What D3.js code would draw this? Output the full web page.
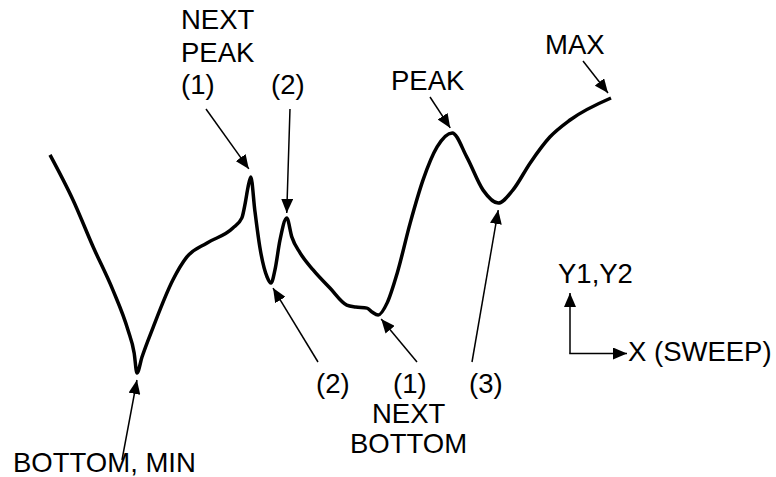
<!DOCTYPE html>
<html>
<head>
<meta charset="utf-8">
<script src="https://cdn.jsdelivr.net/npm/d3@7"></script>
<style>
  body { margin: 0; background: #fff; }
  text { font-family: "Liberation Sans", Arial, sans-serif; font-size: 27.5px; fill: #000; }
</style>
</head>
<body>
<div class="chart"></div>
<script>
// Configuration
var width = 776;
var height = 477;

// curve samples (sweep 0..100, level 0..100)
var sweep = [0, 4.1, 7.7, 11.2, 13.9, 15.0, 15.5, 16.4, 18.4, 21.9, 24.4, 28.0, 32.6, 34.2, 34.8, 35.3,
  35.8, 36.5, 37.4, 38.7, 39.4, 40.1, 41.0, 42.2, 43.1, 44.6, 46.9, 49.9, 52.9, 54.5, 56.5, 57.4,
  58.5, 60.1, 61.9, 64.2, 66.5, 69.0, 71.7, 74.3, 77.2, 79.9, 82.5, 85.6, 89.1, 92.7, 100];
var level = [79.3, 62.9, 45.8, 30.2, 15.6, 7.3, 0, 5.8, 16.7, 33.8, 42.2, 47.3, 52.7, 56.4, 61.8, 67.6,
  71.3, 59.3, 45.8, 34.9, 32.7, 37.5, 48.4, 56.4, 49.5, 43.6, 37.5, 30.9, 24.7, 24.0, 23.6, 22.2,
  21.1, 25.5, 36.4, 54.5, 70.2, 82.2, 87.3, 78.5, 66.5, 61.8, 66.5, 76.4, 85.8, 92.0, 100];

// annotation labels: lines of text, which curve sample the arrow points at
var labelText = [["NEXT", "PEAK", "(1)"], ["(2)"], ["PEAK"], ["MAX"], ["(3)"], ["(1)", "NEXT", "BOTTOM"], ["(2)"], ["BOTTOM, MIN"]];
var labelTarget = [16, 23, 38, 46, 41, 32, 20, 6];

// layout for each annotation: text left/baseline, arrow tail, gap from curve
var labelLayout = [
  {x: 181, y: 29, dy: 32.5, tail: [206, 109], gap: [-2, -8]},
  {x: 271, y: 94, dy: 33, tail: [290, 109], gap: [0, -5]},
  {x: 391, y: 90, dy: 33, tail: [430, 97], gap: [-2, -5]},
  {x: 545, y: 54, dy: 33, tail: [583, 61], gap: [-3, -5]},
  {x: 469, y: 393, dy: 33, tail: [472, 362], gap: [0, 7]},
  {x: 393, y: 393, dy: 30, tail: [417, 362], gap: [3, 4], lineX: [393, 372, 350]},
  {x: 316, y: 393, dy: 33, tail: [318, 362], gap: [2, 5]},
  {x: 13, y: 472, dy: 33, tail: [122, 460], gap: [0, 7]}
];

var svg = d3.select(".chart").append("svg")
    .attr("width", width)
    .attr("height", height);

var x = d3.scaleLinear().domain([0, 100]).range([50, 611]);
var y = d3.scaleLinear().domain([0, 100]).range([373, 98]);

// arrow head
svg.append("defs").append("marker")
    .attr("id", "head")
    .attr("markerUnits", "userSpaceOnUse")
    .attr("viewBox", "0 0 14 12")
    .attr("refX", 14)
    .attr("refY", 6)
    .attr("markerWidth", 14)
    .attr("markerHeight", 12)
    .attr("orient", "auto")
  .append("path")
    .attr("d", "M0,0L14,6L0,12Z")
    .attr("fill", "#000");

// the curve
var pts = sweep.map(function(d, i) { return [d, level[i]]; });
var line = d3.line()
    .x(function(d) { return x(d[0]); })
    .y(function(d) { return y(d[1]); })
    .curve(d3.curveMonotoneX);

svg.append("path")
    .datum(pts)
    .attr("d", line)
    .attr("fill", "none")
    .attr("stroke", "#000")
    .attr("stroke-width", 3.5)
    .attr("stroke-linejoin", "round")
    .attr("stroke-linecap", "butt");

// annotations
labelText.forEach(function(lines, i) {
  var lay = labelLayout[i];
  var p = pts[labelTarget[i]];
  svg.append("line")
      .attr("x1", lay.tail[0])
      .attr("y1", lay.tail[1])
      .attr("x2", x(p[0]) + lay.gap[0])
      .attr("y2", y(p[1]) + lay.gap[1])
      .attr("stroke", "#000")
      .attr("stroke-width", 1.5)
      .attr("marker-end", "url(#head)");
  lines.forEach(function(t, j) {
    svg.append("text")
        .attr("x", lay.lineX ? lay.lineX[j] : lay.x)
        .attr("y", lay.y + j * lay.dy)
        .text(t);
  });
});

// axis key
var key = svg.append("g");
key.append("line")
    .attr("x1", 570).attr("y1", 353.5).attr("x2", 570).attr("y2", 293)
    .attr("stroke", "#000").attr("stroke-width", 1.5)
    .attr("marker-end", "url(#head)");
key.append("line")
    .attr("x1", 569.25).attr("y1", 353.5).attr("x2", 627).attr("y2", 353.5)
    .attr("stroke", "#000").attr("stroke-width", 1.5)
    .attr("marker-end", "url(#head)");
key.append("text").attr("x", 558).attr("y", 283).text("Y1,Y2");
key.append("text").attr("x", 628).attr("y", 361).text("X (SWEEP)");
</script>
</body>
</html>
